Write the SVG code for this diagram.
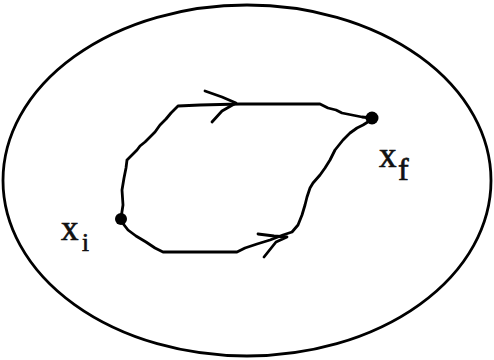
<svg xmlns="http://www.w3.org/2000/svg" width="494" height="360" viewBox="0 0 494 360">
<style>
.ln{fill:none;stroke:#000;stroke-width:2.8;stroke-linejoin:round;stroke-linecap:round}
.lb{font-family:"Liberation Serif",serif;fill:#111;stroke:#111;stroke-width:0.7}
</style>
<rect width="494" height="360" fill="#fff"/>
<g id="region">
<ellipse cx="247" cy="180.5" rx="244" ry="175.5" fill="none" stroke="#000" stroke-width="2.8"/>
</g>
<g id="connectors">
<path class="ln" d="M121,218 L123,205 L122,190 L124,178 L126,168 L127,160 L132,155 L137,150 L140,146 L145,142 L150,137 L155,132 L160,125 L166,119 L171,113 L178,106 L200,105 L240,104 L280,104 L320,104 L328,108 L336,110 L342,113 L352,115 L362,117 L371,118"/>
<path class="ln" d="M205,91 L222,97 L236,103 L222,111 L212,122"/>
<path class="ln" d="M121,221 L128,230 L136,236 L146,242 L155,248 L163,252 L190,252 L237,252 L245,248 L257,244 L270,240 L283,235 L292,232 L298,225 L302,215 L305,205 L307,197 L310,188 L313,183 L320,175 L325,168 L330,160 L335,150 L343,140 L350,133 L357,128 L363,125 L371,120"/>
<path class="ln" d="M258,234 L274,236 L287,237 L276,242 L264,257"/>
</g>
<g id="xi">
<circle cx="121" cy="219" r="6" fill="#000"/>
<text class="lb" x="61" y="240" font-size="35">x</text>
<text class="lb" x="82" y="251" font-size="25">i</text>
</g>
<g id="xf">
<circle cx="372" cy="118" r="6.5" fill="#000"/>
<text class="lb" x="379" y="167" font-size="35">x</text>
<text class="lb" x="398" y="180" font-size="32">f</text>
</g>
</svg>
